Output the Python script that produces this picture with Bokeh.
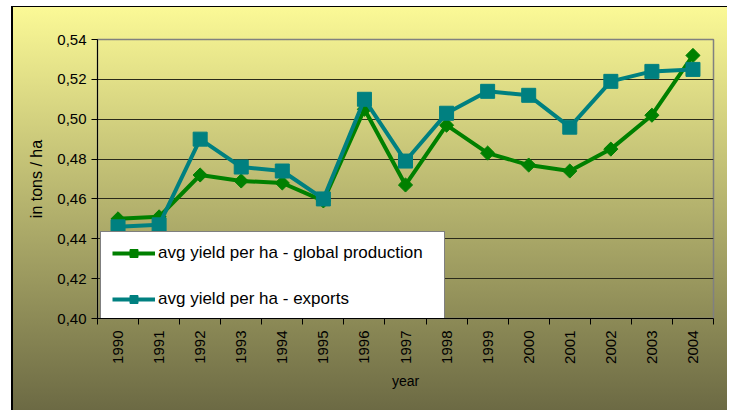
import math
from bokeh.plotting import figure
from bokeh.models import FixedTicker, Range1d, Legend, LegendItem
from bokeh.embed import file_html
from bokeh.resources import INLINE

# ---- data ----
years = [1990, 1991, 1992, 1993, 1994, 1995, 1996, 1997, 1998, 1999, 2000, 2001, 2002, 2003, 2004]
global_production = [0.450, 0.451, 0.472, 0.469, 0.468, 0.459, 0.505, 0.467, 0.497, 0.483, 0.477, 0.474, 0.485, 0.502, 0.532]
exports = [0.446, 0.447, 0.490, 0.476, 0.474, 0.460, 0.510, 0.479, 0.503, 0.514, 0.512, 0.496, 0.519, 0.524, 0.525]
ytick_vals = [0.40, 0.42, 0.44, 0.46, 0.48, 0.50, 0.52, 0.54]
ytick_labels = ["0,40", "0,42", "0,44", "0,46", "0,48", "0,50", "0,52", "0,54"]
series_names = ["avg yield per ha - global production", "avg yield per ha - exports"]
x_label = "year"
y_label = "in tons / ha"

FONT = "Liberation Sans"
GREEN = "#008000"
TEAL = "#008080"

p = figure(
    width=716, height=404,
    output_backend="svg", toolbar_location=None,
    x_range=Range1d(years[0] - 0.5, years[-1] + 0.5),
    y_range=Range1d(ytick_vals[0], ytick_vals[-1]),
    min_border_left=84, min_border_right=16, min_border_top=32, min_border_bottom=93,
    background_fill_alpha=0, border_fill_alpha=0,
    outline_line_color="#808080", outline_line_width=1.5,
    styles={
        "background": "linear-gradient(to bottom, rgb(251,249,150), rgb(108,106,68))",
        "border-top": "1px solid black",
        "border-left": "2px solid black",
        "margin-left": "11px",
        "margin-top": "6px",
    },
)

# grid
p.xgrid.visible = False
p.ygrid.ticker = FixedTicker(ticks=ytick_vals[:-1])
p.ygrid.grid_line_color = "#2a2a1a"
p.ygrid.grid_line_width = 1

# y axis
p.yaxis.ticker = FixedTicker(ticks=ytick_vals)
p.yaxis.major_label_overrides = dict(zip(ytick_vals, ytick_labels))
p.yaxis.major_tick_out = 6
p.yaxis.major_tick_in = 0
p.yaxis.minor_tick_line_color = None
p.yaxis.major_label_standoff = 5
p.yaxis.axis_label = y_label
p.yaxis.axis_label_standoff = 9
p.yaxis.axis_label_text_font_size = "16px"

# x axis
boundaries = [y - 0.5 for y in years] + [years[-1] + 0.5]
p.xaxis.ticker = FixedTicker(ticks=years, minor_ticks=boundaries)
p.xaxis.major_tick_out = 0
p.xaxis.major_tick_in = 0
p.xaxis.minor_tick_out = 6
p.xaxis.minor_tick_in = 0
p.xaxis.minor_tick_line_color = "black"
p.xaxis.major_label_orientation = math.pi / 2
p.xaxis.major_label_standoff = 6
p.xaxis.axis_label = x_label
p.xaxis.axis_label_standoff = 6
p.xaxis.axis_label_text_font_size = "14px"

for ax in (p.xaxis[0], p.yaxis[0]):
    ax.axis_line_color = "black"
    ax.major_tick_line_color = "black"
    ax.major_label_text_font = FONT
    ax.major_label_text_font_size = "15px"
    ax.major_label_text_color = "black"
    ax.axis_label_text_font = FONT
    ax.axis_label_text_font_style = "normal"
    ax.axis_label_text_color = "black"

# series
gl = p.line(years, global_production, line_color=GREEN, line_width=4)
gs = p.scatter(years, global_production, marker="square", angle=math.pi / 4, size=10,
               fill_color=GREEN, line_color=GREEN)
tl = p.line(years, exports, line_color=TEAL, line_width=4)
ts = p.scatter(years, exports, marker="square", size=14, fill_color=TEAL, line_color=TEAL)

legend = Legend(
    items=[LegendItem(label=series_names[0], renderers=[gl, gs]),
           LegendItem(label=series_names[1], renderers=[tl, ts])],
    location=(3, -3), margin=0,
    padding=11, spacing=26,
    glyph_width=43, glyph_height=20, label_height=20,
    label_standoff=3, label_width=275,
    label_text_font=FONT, label_text_font_size="17px", label_text_color="black",
    border_line_color="black", border_line_width=1,
    background_fill_color="white", background_fill_alpha=1,
)
p.add_layout(legend)

open("out.html", "w").write(file_html(p, INLINE))
